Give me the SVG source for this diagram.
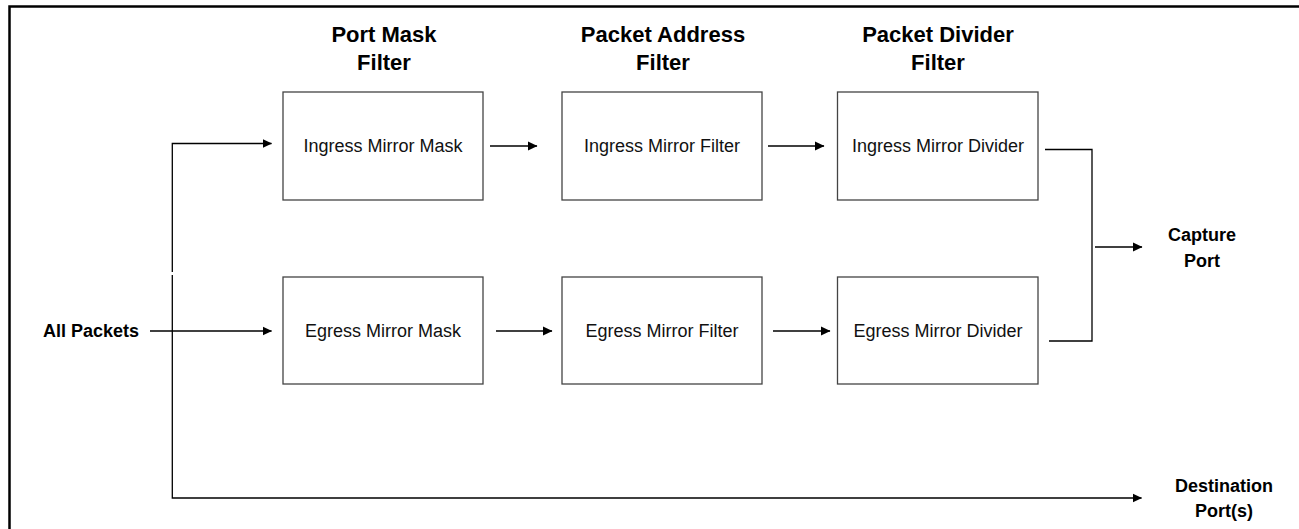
<svg xmlns="http://www.w3.org/2000/svg" width="1299" height="529" viewBox="0 0 1299 529">
<style>
.box{fill:#fff;stroke:#444;stroke-width:1.3}
.ln{fill:none;stroke:#000;stroke-width:1.3}
.t{font-family:"Liberation Sans",Arial,sans-serif;font-size:18px;fill:#111;text-anchor:middle}
.b{font-family:"Liberation Sans",Arial,sans-serif;font-size:18px;font-weight:bold;fill:#000;text-anchor:middle}
.h{font-family:"Liberation Sans",Arial,sans-serif;font-size:22px;font-weight:bold;fill:#000;text-anchor:middle}
</style>
<defs>
<marker id="ah" markerWidth="10" markerHeight="10" refX="9" refY="5" orient="auto" markerUnits="userSpaceOnUse">
<path d="M0,0.5 L9.5,5 L0,9.5 Z" fill="#000"/>
</marker>
</defs>
<rect width="1299" height="529" fill="#fff"/>
<g id="frame">
<path d="M9.5,529 V6.5 H1299" fill="none" stroke="#000" stroke-width="2.5"/>
</g>
<g id="titles">
<text class="h" x="384" y="42">Port Mask</text>
<text class="h" x="384" y="70">Filter</text>
<text class="h" x="663" y="42">Packet Address</text>
<text class="h" x="663" y="70">Filter</text>
<text class="h" x="938" y="42">Packet Divider</text>
<text class="h" x="938" y="70">Filter</text>
</g>
<g id="all-packets"><text class="b" x="91" y="337">All Packets</text></g>
<g id="capture-port"><text class="b" x="1202" y="241">Capture</text><text class="b" x="1202" y="267">Port</text></g>
<g id="destination-ports"><text class="b" x="1224" y="492">Destination</text><text class="b" x="1224" y="517">Port(s)</text></g>
<g id="ingress-mask"><rect class="box" x="283" y="92" width="200" height="108"/><text class="t" x="383" y="152">Ingress Mirror Mask</text></g>
<g id="ingress-filter"><rect class="box" x="562" y="92" width="200" height="108"/><text class="t" x="662" y="152">Ingress Mirror Filter</text></g>
<g id="ingress-divider"><rect class="box" x="837.5" y="92" width="200.5" height="108"/><text class="t" x="938" y="152">Ingress Mirror Divider</text></g>
<g id="egress-mask"><rect class="box" x="283" y="277" width="200" height="107"/><text class="t" x="383" y="337">Egress Mirror Mask</text></g>
<g id="egress-filter"><rect class="box" x="562" y="277" width="200" height="107"/><text class="t" x="662" y="337">Egress Mirror Filter</text></g>
<g id="egress-divider"><rect class="box" x="837.5" y="277" width="200.5" height="107"/><text class="t" x="938" y="337">Egress Mirror Divider</text></g>
<g id="connectors">
<path class="ln" d="M172.3,272 V143.5 H271.5" marker-end="url(#ah)"/>
<path class="ln" d="M172.3,275 V498 H1141.5" marker-end="url(#ah)"/>
<path class="ln" d="M150,331 H271.5" marker-end="url(#ah)"/>
<path class="ln" d="M490,146 H537" marker-end="url(#ah)"/>
<path class="ln" d="M768,146 H824" marker-end="url(#ah)"/>
<path class="ln" d="M496,331 H552" marker-end="url(#ah)"/>
<path class="ln" d="M773,331 H830" marker-end="url(#ah)"/>
<path class="ln" d="M1045,149.5 H1092 V341 H1049"/>
<path class="ln" d="M1095,247 H1142" marker-end="url(#ah)"/>
</g>
</svg>
